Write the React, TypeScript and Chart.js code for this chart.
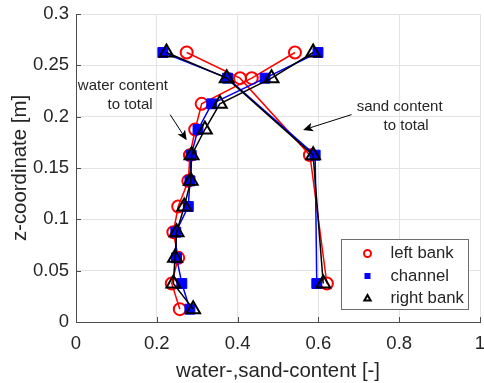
import React, { useEffect, useRef } from 'react';
import { Chart, registerables } from 'chart.js';

Chart.register(...registerables);

// ---- data ----
const zLevels = [0.2625, 0.2375, 0.2125, 0.1875, 0.1625, 0.1375, 0.1125, 0.0875, 0.0625, 0.0375, 0.0125];
const waterLeft = [0.542, 0.435, 0.311, 0.295, 0.282, 0.278, 0.253, 0.241, 0.253, 0.237, 0.257];
const waterChannel = [0.599, 0.468, 0.336, 0.302, 0.285, 0.282, 0.278, 0.247, 0.249, 0.262, 0.282];
const waterRight = [0.587, 0.484, 0.356, 0.319, 0.286, 0.284, 0.268, 0.249, 0.245, 0.241, 0.29];

const zSand = [0.2625, 0.2375, 0.1625, 0.0375];
const sandLeft = [0.274, 0.406, 0.579, 0.621];
const sandChannel = [0.215, 0.375, 0.592, 0.596];
const sandRight = [0.224, 0.373, 0.587, 0.612];

const seriesNames = ['left bank', 'channel', 'right bank'];
const seriesColors = ['#ff0000', '#0000ff', '#000000'];

const xTickValues = [0, 0.2, 0.4, 0.6, 0.8, 1];
const xTickLabels = ['0', '0.2', '0.4', '0.6', '0.8', '1'];
const yTickValues = [0, 0.05, 0.1, 0.15, 0.2, 0.25, 0.3];
const yTickLabels = ['0', '0.05', '0.1', '0.15', '0.2', '0.25', '0.3'];

const xTitle = 'water-,sand-content [-]';
const yTitle = 'z-coordinate [m]';

const noteTexts = ['water content', 'to total', 'sand content', 'to total'];
const noteX = [0.116, 0.134, 0.801, 0.817];
const noteY = [0.2296, 0.2117, 0.21, 0.191];

const arrowFromX = [0.233, 0.682];
const arrowFromY = [0.202, 0.202];
const arrowToX = [0.274, 0.562];
const arrowToY = [0.177, 0.187];

const FONT = "'Liberation Sans', Arial, Helvetica, sans-serif";
const TEXT_COLOR = '#262626';

const toPts = (xs: number[], zs: number[]) => xs.map((x, i) => ({ x, y: zs[i] }));

function drawMarker(ctx: CanvasRenderingContext2D, kind: number, x: number, y: number, s: number) {
  ctx.save();
  ctx.strokeStyle = seriesColors[kind];
  ctx.fillStyle = seriesColors[kind];
  if (kind === 0) {
    ctx.lineWidth = 2;
    ctx.beginPath();
    ctx.arc(x, y, s, 0, Math.PI * 2);
    ctx.stroke();
  } else if (kind === 1) {
    ctx.fillRect(x - s, y - s, 2 * s, 2 * s);
  } else {
    ctx.lineWidth = 2;
    ctx.beginPath();
    ctx.moveTo(x, y - s);
    ctx.lineTo(x + s * 0.9, y + s * 0.6);
    ctx.lineTo(x - s * 0.9, y + s * 0.6);
    ctx.closePath();
    ctx.stroke();
  }
  ctx.restore();
}

const decorPlugin = {
  id: 'decor',
  beforeDatasetsDraw(chart: any) {
    const { ctx, chartArea, scales } = chart;
    const xs = scales.x;
    const ys = scales.y;
    ctx.save();
    ctx.strokeStyle = '#4d4d4d';
    ctx.lineWidth = 1;
    ctx.beginPath();
    xTickValues.forEach((v) => {
      const px = Math.round(xs.getPixelForValue(v)) + 0.5;
      ctx.moveTo(px, chartArea.bottom);
      ctx.lineTo(px, chartArea.bottom - 5);
    });
    yTickValues.forEach((v) => {
      const py = Math.round(ys.getPixelForValue(v)) + 0.5;
      ctx.moveTo(chartArea.left, py);
      ctx.lineTo(chartArea.left + 5, py);
    });
    ctx.stroke();
    ctx.restore();
  },
  afterDatasetsDraw(chart: any) {
    const { ctx, scales } = chart;
    const xs = scales.x;
    const ys = scales.y;
    ctx.save();
    ctx.fillStyle = TEXT_COLOR;
    ctx.font = `15px ${FONT}`;
    ctx.textAlign = 'center';
    ctx.textBaseline = 'middle';
    noteTexts.forEach((t, i) => {
      ctx.fillText(t, xs.getPixelForValue(noteX[i]), ys.getPixelForValue(noteY[i]));
    });
    // arrows
    ctx.strokeStyle = '#000';
    ctx.fillStyle = '#000';
    ctx.lineWidth = 1;
    arrowFromX.forEach((fx, i) => {
      const x1 = xs.getPixelForValue(fx);
      const y1 = ys.getPixelForValue(arrowFromY[i]);
      const x2 = xs.getPixelForValue(arrowToX[i]);
      const y2 = ys.getPixelForValue(arrowToY[i]);
      const ang = Math.atan2(y2 - y1, x2 - x1);
      const L = 10;
      const W = 4.5;
      const bx = x2 - L * Math.cos(ang);
      const by = y2 - L * Math.sin(ang);
      const nx = x2 - L * 0.75 * Math.cos(ang);
      const ny = y2 - L * 0.75 * Math.sin(ang);
      ctx.beginPath();
      ctx.moveTo(x1, y1);
      ctx.lineTo(nx, ny);
      ctx.stroke();
      ctx.beginPath();
      ctx.moveTo(x2, y2);
      ctx.lineTo(bx - W * Math.sin(ang), by + W * Math.cos(ang));
      ctx.lineTo(nx, ny);
      ctx.lineTo(bx + W * Math.sin(ang), by - W * Math.cos(ang));
      ctx.closePath();
      ctx.fill();
    });
    ctx.restore();
  },
  afterDraw(chart: any) {
    const { ctx, chartArea } = chart;
    const bw = 127;
    const bh = 70;
    const bx = Math.round(chartArea.right - 12 - bw) + 0.5;
    const by = Math.round(chartArea.bottom - 13 - bh) + 0.5;
    ctx.save();
    ctx.fillStyle = '#ffffff';
    ctx.fillRect(bx, by, bw, bh);
    ctx.strokeStyle = '#6e6e6e';
    ctx.lineWidth = 1;
    ctx.strokeRect(bx, by, bw, bh);
    ctx.font = `16.7px ${FONT}`;
    ctx.textAlign = 'left';
    ctx.textBaseline = 'middle';
    seriesNames.forEach((name, i) => {
      const cy = by + 14 + i * 22.5;
      drawMarker(ctx, i, bx + 26, cy, i === 1 ? 3 : 3.5);
      ctx.fillStyle = TEXT_COLOR;
      ctx.fillText(name, bx + 49, cy);
    });
    ctx.restore();
  },
};

export default function App() {
  const ref = useRef<HTMLCanvasElement | null>(null);
  useEffect(() => {
    if (!ref.current) return;
    const common = (i: number) => ({
      showLine: true,
      borderColor: seriesColors[i],
      borderWidth: 1.5,
      pointBorderColor: seriesColors[i],
      pointBackgroundColor: i === 1 ? seriesColors[i] : 'rgba(0,0,0,0)',
      pointStyle: i === 0 ? 'circle' : i === 1 ? 'rect' : 'triangle',
      pointRadius: i === 0 ? 6 : i === 1 ? 7 : 8,
      pointBorderWidth: i === 1 ? 1 : 2,
      order: 2 - i,
    });
    const chart = new Chart(ref.current, {
      type: 'scatter',
      data: {
        datasets: [
          { label: seriesNames[0], data: toPts(waterLeft, zLevels), ...common(0) },
          { label: seriesNames[0] + ' sand', data: toPts(sandLeft, zSand), ...common(0) },
          { label: seriesNames[1], data: toPts(waterChannel, zLevels), ...common(1) },
          { label: seriesNames[1] + ' sand', data: toPts(sandChannel, zSand), ...common(1) },
          { label: seriesNames[2], data: toPts(waterRight, zLevels), ...common(2) },
          { label: seriesNames[2] + ' sand', data: toPts(sandRight, zSand), ...common(2) },
        ] as any,
      },
      options: {
        animation: false,
        responsive: false,
        layout: { autoPadding: false, padding: { top: 14, right: 4, left: 0, bottom: 0 } },
        plugins: { legend: { display: false }, tooltip: { enabled: false } },
        scales: {
          x: {
            type: 'linear',
            min: 0,
            max: 1,
            afterBuildTicks: (s: any) => {
              s.ticks = xTickValues.map((v) => ({ value: v }));
            },
            afterFit: (s: any) => {
              s.height = 61;
              s.paddingLeft = 0;
              s.paddingRight = 0;
            },
            ticks: {
              callback: (_v: any, i: number) => xTickLabels[i],
              font: { family: FONT, size: 18.5 },
              color: TEXT_COLOR,
              padding: 11,
              maxRotation: 0,
            },
            grid: { color: '#e3e3e3', tickLength: 0, lineWidth: 1 },
            border: { display: true, color: '#4d4d4d', width: 1 },
            title: {
              display: true,
              text: xTitle,
              font: { family: FONT, size: 20.4 },
              color: TEXT_COLOR,
              padding: { top: 0, bottom: -1 },
            },
          },
          y: {
            type: 'linear',
            min: 0,
            max: 0.3,
            afterBuildTicks: (s: any) => {
              s.ticks = yTickValues.map((v) => ({ value: v }));
            },
            afterFit: (s: any) => {
              s.width = 76;
              s.paddingTop = 0;
              s.paddingBottom = 0;
            },
            ticks: {
              callback: (_v: any, i: number) => yTickLabels[i],
              font: { family: FONT, size: 18.5 },
              color: TEXT_COLOR,
              padding: 7,
            },
            grid: { color: '#e3e3e3', tickLength: 0, lineWidth: 1 },
            border: { display: true, color: '#4d4d4d', width: 1 },
            title: {
              display: true,
              text: yTitle,
              font: { family: FONT, size: 20.4 },
              color: TEXT_COLOR,
              padding: { top: 8, bottom: 0 },
            },
          },
        },
      },
      plugins: [decorPlugin],
    } as any);
    return () => chart.destroy();
  }, []);
  return (
    <div style={{ position: 'absolute', left: 0, top: 0, width: 484, height: 383, background: '#fff' }}>
      <canvas ref={ref} width={484} height={383} />
    </div>
  );
}
